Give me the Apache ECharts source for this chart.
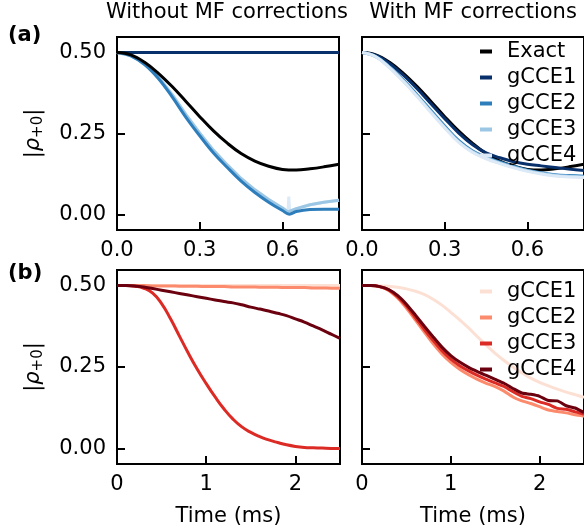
<!DOCTYPE html>
<html>
<head>
<meta charset="utf-8">
<script src="https://cdn.jsdelivr.net/npm/echarts@6/dist/echarts.min.js"></script>
<style>html,body{margin:0;padding:0;background:#fff}#c{width:584px;height:531px}</style>
</head>
<body>
<div id="c"></div>
<script>
// ---------- data ----------
const topTicks = [0, 0.3, 0.6];
const botTicks = [0, 1, 2];
const yTicks = [0, 0.25, 0.5];

const tTop = [0,0.05,0.1,0.15,0.2,0.25,0.3,0.35,0.4,0.45,0.5,0.55,0.6,0.65,0.7,0.75,0.805];
const exact = [0.500,0.493,0.470,0.436,0.395,0.349,0.302,0.258,0.220,0.188,0.165,0.149,0.139,0.137,0.141,0.147,0.155];

// (a) without MF corrections
const tA2 = [0,0.05,0.1,0.15,0.2,0.25,0.3,0.35,0.4,0.45,0.5,0.55,0.6,0.625,0.65,0.7,0.75,0.805];
const aG1 = [0.5,0.5,0.5,0.5,0.5,0.5,0.5,0.5,0.5,0.5,0.5,0.5,0.5,0.5,0.5,0.5,0.5,0.5];
const aG2 = [0.500,0.490,0.463,0.420,0.363,0.300,0.243,0.190,0.145,0.103,0.068,0.038,0.012,0.001,0.009,0.015,0.016,0.016];
const tA3 = [0,0.05,0.1,0.15,0.2,0.25,0.3,0.35,0.4,0.45,0.5,0.55,0.6,0.62,0.623,0.626,0.65,0.7,0.75,0.805];
const aG3 = [0.500,0.491,0.466,0.425,0.370,0.308,0.251,0.198,0.153,0.111,0.076,0.046,0.020,0.008,0.008,0.010,0.018,0.030,0.038,0.044];
const aG4 = [0.500,0.491,0.466,0.425,0.370,0.308,0.251,0.198,0.153,0.111,0.076,0.046,0.020,0.008,0.055,0.010,0.018,0.030,0.038,0.044];

// (a) with MF corrections
const bG1 = [0.500,0.491,0.466,0.430,0.388,0.342,0.296,0.252,0.216,0.190,0.175,0.163,0.155,0.150,0.145,0.140,0.136];
const bG2 = [0.500,0.488,0.456,0.415,0.369,0.321,0.273,0.229,0.197,0.177,0.162,0.149,0.137,0.129,0.123,0.120,0.118];
const bG3 = [0.500,0.487,0.454,0.412,0.366,0.317,0.269,0.225,0.194,0.174,0.159,0.146,0.135,0.127,0.121,0.118,0.116];
const bG4 = [0.500,0.487,0.453,0.411,0.364,0.315,0.267,0.223,0.192,0.172,0.157,0.144,0.133,0.125,0.119,0.116,0.114];

// (b)
const tBot = [0,0.1,0.2,0.3,0.4,0.5,0.6,0.7,0.8,0.9,1.0,1.1,1.2,1.3,1.4,1.5,1.6,1.7,1.8,1.9,2.0,2.1,2.2,2.3,2.4,2.5];
const cG1 = [0.5,0.5,0.5,0.5,0.5,0.5,0.5,0.5,0.5,0.5,0.5,0.5,0.5,0.5,0.5,0.5,0.5,0.5,0.5,0.5,0.5,0.5,0.5,0.5,0.5,0.5];
const cG2 = [0.5,0.5,0.5,0.5,0.499,0.499,0.499,0.498,0.498,0.498,0.497,0.497,0.497,0.496,0.496,0.496,0.495,0.495,0.495,0.494,0.494,0.494,0.493,0.493,0.492,0.492];
const cG3 = [0.5,0.5,0.498,0.492,0.477,0.445,0.398,0.345,0.292,0.243,0.199,0.158,0.121,0.090,0.066,0.049,0.036,0.026,0.018,0.011,0.006,0.003,0.002,0.001,0.0,0.0];
const cG4 = [0.5,0.5,0.499,0.496,0.491,0.486,0.481,0.476,0.471,0.466,0.461,0.456,0.451,0.447,0.441,0.434,0.428,0.422,0.415,0.408,0.398,0.388,0.376,0.364,0.351,0.338];

const dG1 = [0.5,0.5,0.499,0.498,0.495,0.49,0.483,0.473,0.458,0.44,0.418,0.395,0.37,0.343,0.317,0.292,0.27,0.25,0.232,0.216,0.203,0.192,0.182,0.173,0.165,0.157];
const dG2 = [0.5,0.5,0.496,0.485,0.462,0.431,0.395,0.358,0.322,0.29,0.264,0.243,0.226,0.212,0.2,0.19,0.176,0.158,0.146,0.138,0.128,0.118,0.113,0.109,0.103,0.099];
const dG3 = [0.5,0.5,0.497,0.487,0.466,0.437,0.402,0.366,0.332,0.3,0.274,0.254,0.238,0.224,0.212,0.201,0.19,0.174,0.16,0.153,0.143,0.135,0.123,0.12,0.112,0.105];
const dG4 = [0.5,0.5,0.497,0.488,0.47,0.443,0.41,0.376,0.343,0.311,0.285,0.265,0.249,0.236,0.224,0.212,0.2,0.184,0.17,0.166,0.160,0.147,0.146,0.131,0.124,0.11];

const blues = ['#08306b','#2e7ebc','#9cc7e4','#dce9f6'];
const reds = ['#fde0d4','#fb8b6c','#dc2a25','#6b010e'];

// ---------- chart ----------
const pairs = (t, v) => t.map((x, i) => [x, v[i]]);
const FONT = 'DejaVu Sans';
const FS = 21;

const grids = [
  {left:117, top:37, width:222, height:193},
  {left:362, top:37, width:222, height:193},
  {left:117, top:270, width:223, height:194},
  {left:362, top:270, width:223, height:194}
];

function xAx(i, max, ticks, dec) {
  return {
    type:'value', gridIndex:i, min:0, max:max,
    axisLine:{show:false, onZero:false},
    splitLine:{show:false},
    axisTick:{show:true, inside:true, length:8, customValues:ticks, lineStyle:{color:'#000', width:2}},
    axisLabel:{show:true, customValues:ticks, margin:10, color:'#000', fontSize:FS, fontFamily:FONT,
               formatter:v => v.toFixed(dec)},
    name: i >= 2 ? 'Time (ms)' : '', nameLocation:'middle', nameGap:42,
    nameTextStyle:{fontSize:FS, fontFamily:FONT, color:'#000'}
  };
}
function yAx(i, labels) {
  return {
    type:'value', gridIndex:i, min:-0.048, max:0.548,
    axisLine:{show:false, onZero:false},
    splitLine:{show:false},
    axisTick:{show:true, inside:true, length:8, customValues:yTicks, lineStyle:{color:'#000', width:2}},
    axisLabel:{show:labels, customValues:yTicks, margin:11, color:'#000', fontSize:FS, fontFamily:FONT,
               formatter:v => v.toFixed(2)},
    name: labels ? '|{i|ρ}{s|+0}|' : '', nameLocation:'middle', nameRotate:90, nameGap:71,
    nameTextStyle:{fontSize:FS, fontFamily:FONT, color:'#000',
      rich:{
        i:{fontSize:FS, fontStyle:'italic', fontFamily:FONT, color:'#000'},
        s:{fontSize:15, fontFamily:FONT, color:'#000', verticalAlign:'bottom', padding:[9,0,0,0]}
      }}
  };
}

function ln(name, xi, t, v, color, smooth) {
  return {
    type:'line', name:name, xAxisIndex:xi, yAxisIndex:xi, data:pairs(t, v),
    showSymbol:false, symbol:'none', smooth:smooth === undefined ? 0.4 : smooth,
    lineStyle:{width:3, color:color}, itemStyle:{color:color}, clip:true
  };
}

const series = [
  // top-left: drawn light first
  ln('gCCE4', 0, tA3, aG4, blues[3], false),
  ln('gCCE3', 0, tA3, aG3, blues[2], false),
  ln('gCCE2', 0, tA2, aG2, blues[1]),
  ln('gCCE1', 0, tA2, aG1, blues[0]),
  ln('Exact', 0, tTop, exact, '#000'),
  // top-right
  ln('Exact', 1, tTop, exact, '#000'),
  ln('gCCE1', 1, tTop, bG1, blues[0]),
  ln('gCCE2', 1, tTop, bG2, blues[1]),
  ln('gCCE3', 1, tTop, bG3, blues[2]),
  ln('gCCE4', 1, tTop, bG4, blues[3]),
  // bottom-left
  ln('gCCE1 ', 2, tBot, cG1, reds[0]),
  ln('gCCE2 ', 2, tBot, cG2, reds[1]),
  ln('gCCE3 ', 2, tBot, cG3, reds[2], 0.5),
  ln('gCCE4 ', 2, tBot, cG4, reds[3]),
  // bottom-right
  ln('gCCE1 ', 3, tBot, dG1, reds[0]),
  ln('gCCE2 ', 3, tBot, dG2, reds[1], 0.2),
  ln('gCCE3 ', 3, tBot, dG3, reds[2], 0.2),
  ln('gCCE4 ', 3, tBot, dG4, reds[3], 0.2)
];

const legendCommon = {
  orient:'vertical', icon:'rect', itemWidth:12, itemHeight:4, itemGap:5,
  selectedMode:false, textStyle:{fontSize:FS, fontFamily:FONT, color:'#000', padding:[0,0,0,10]}
};

const chart = echarts.init(document.getElementById('c'), null, {renderer:'canvas'});
chart.setOption({
  animation:false,
  backgroundColor:'#fff',
  textStyle:{fontFamily:FONT, fontSize:FS, color:'#000'},
  grid: grids.map(g => Object.assign({show:true, borderColor:'#000', borderWidth:2, backgroundColor:'transparent'}, g)),
  xAxis:[xAx(0, 0.805, topTicks, 1), xAx(1, 0.805, topTicks, 1), xAx(2, 2.5, botTicks, 0), xAx(3, 2.5, botTicks, 0)],
  yAxis:[yAx(0, true), yAx(1, false), yAx(2, true), yAx(3, false)],
  legend:[
    Object.assign({}, legendCommon, {left:475, top:36, data:['Exact','gCCE1','gCCE2','gCCE3','gCCE4']}),
    Object.assign({}, legendCommon, {left:475, top:276, data:['gCCE1 ','gCCE2 ','gCCE3 ','gCCE4 ']})
  ],
  graphic:[
    {type:'text', x:227, y:13, style:{text:'Without MF corrections', font:'21px "DejaVu Sans"', fill:'#000', textAlign:'center', textVerticalAlign:'middle'}},
    {type:'text', x:473, y:13, style:{text:'With MF corrections', font:'21px "DejaVu Sans"', fill:'#000', textAlign:'center', textVerticalAlign:'middle'}},
    {type:'text', x:8, y:36, style:{text:'(a)', font:'bold 21px "DejaVu Sans"', fill:'#000', textAlign:'left', textVerticalAlign:'middle'}},
    {type:'text', x:8, y:274, style:{text:'(b)', font:'bold 21px "DejaVu Sans"', fill:'#000', textAlign:'left', textVerticalAlign:'middle'}}
  ],
  series:series
});
</script>
</body>
</html>
